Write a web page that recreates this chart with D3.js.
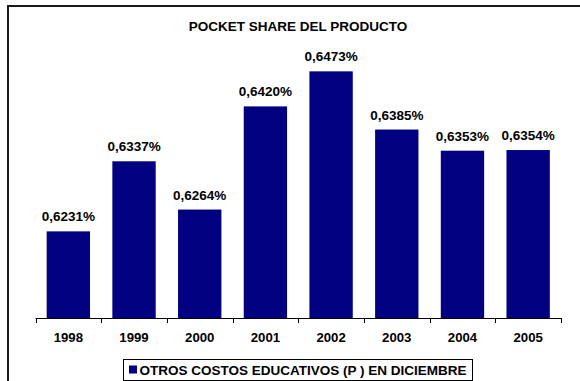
<!DOCTYPE html>
<html><head><meta charset="utf-8">
<script src="https://cdn.jsdelivr.net/npm/d3@7"></script>
<style>
html,body{margin:0;padding:0;background:#fff;overflow:hidden;}
svg{display:block;font-family:"Liberation Sans",Arial,sans-serif;}
</style></head>
<body>
<svg id="chart" width="580" height="381"></svg>
<script>
const categories = ["1998","1999","2000","2001","2002","2003","2004","2005"];
const values = [0.6231,0.6337,0.6264,0.6420,0.6473,0.6385,0.6353,0.6354];
const labels = ["0,6231%","0,6337%","0,6264%","0,6420%","0,6473%","0,6385%","0,6353%","0,6354%"];
const title = "POCKET SHARE DEL PRODUCTO";
const seriesName = "OTROS COSTOS EDUCATIVOS (P ) EN DICIEMBRE";
const yDomain = [0.61, 0.65];

(function(){
const svg = d3.select("#chart");
// outer frame
svg.append("rect").attr("x",8).attr("y",6).attr("width",620).attr("height",420)
  .attr("fill","none").attr("stroke","#1a1a1a").attr("stroke-width",2);

const plotLeft=35.5, plotRight=561, plotBase=318, plotTop=53.5;
const xTick = d3.scaleBand().domain(categories).range([plotLeft,plotRight]).padding(0);
const xBar = d3.scaleBand().domain(categories).range([plotLeft,plotRight]).paddingInner(0.34).paddingOuter(0.17);
const y = d3.scaleLinear().domain(yDomain).range([plotBase,plotTop]);

svg.append("text").attr("x",298).attr("y",31).attr("text-anchor","middle")
  .attr("font-size",13.5).attr("font-weight","bold").attr("fill","#000").text(title);

const data = categories.map((c,i)=>({c,v:values[i],l:labels[i]}));
svg.selectAll("rect.bar").data(data).enter().append("rect").attr("class","bar")
  .attr("x",d=>xBar(d.c)).attr("width",xBar.bandwidth())
  .attr("y",d=>y(d.v)).attr("height",d=>plotBase-y(d.v)).attr("fill","#000080");

svg.selectAll("text.val").data(data).enter().append("text").attr("class","val")
  .attr("x",d=>xBar(d.c)+xBar.bandwidth()/2).attr("y",d=>y(d.v)-10)
  .attr("text-anchor","middle").attr("font-size",13.5).attr("font-weight","bold").attr("fill","#000")
  .text(d=>d.l);

// axis
const ax = svg.append("g").attr("transform",`translate(0,${plotBase})`);
ax.append("line").attr("x1",plotLeft).attr("x2",plotRight).attr("y1",0.5).attr("y2",0.5).attr("stroke","#000").attr("stroke-width",1);
const tickPos = categories.map(c=>xTick(c)).concat([plotRight]);
ax.selectAll("line.tick").data(tickPos).enter().append("line").attr("class","tick")
  .attr("x1",d=>Math.round(d)+0.5).attr("x2",d=>Math.round(d)+0.5).attr("y1",0).attr("y2",5)
  .attr("stroke","#000").attr("stroke-width",1);
ax.selectAll("text.cat").data(categories).enter().append("text").attr("class","cat")
  .attr("x",d=>xTick(d)+xTick.bandwidth()/2).attr("y",24)
  .attr("text-anchor","middle").attr("font-size",13.2).attr("font-weight","bold").attr("fill","#000")
  .text(d=>d);

// legend
const lg = svg.append("g");
lg.append("rect").attr("x",123.5).attr("y",359.5).attr("width",349).attr("height",21)
  .attr("fill","#fff").attr("stroke","#000").attr("stroke-width",1);
lg.append("rect").attr("x",129).attr("y",365.5).attr("width",8).attr("height",8).attr("fill","#000080");
lg.append("text").attr("x",139.5).attr("y",374.5).attr("font-size",13.5).attr("font-weight","bold")
  .attr("fill","#000").text(seriesName);
})();
</script>
</body></html>
